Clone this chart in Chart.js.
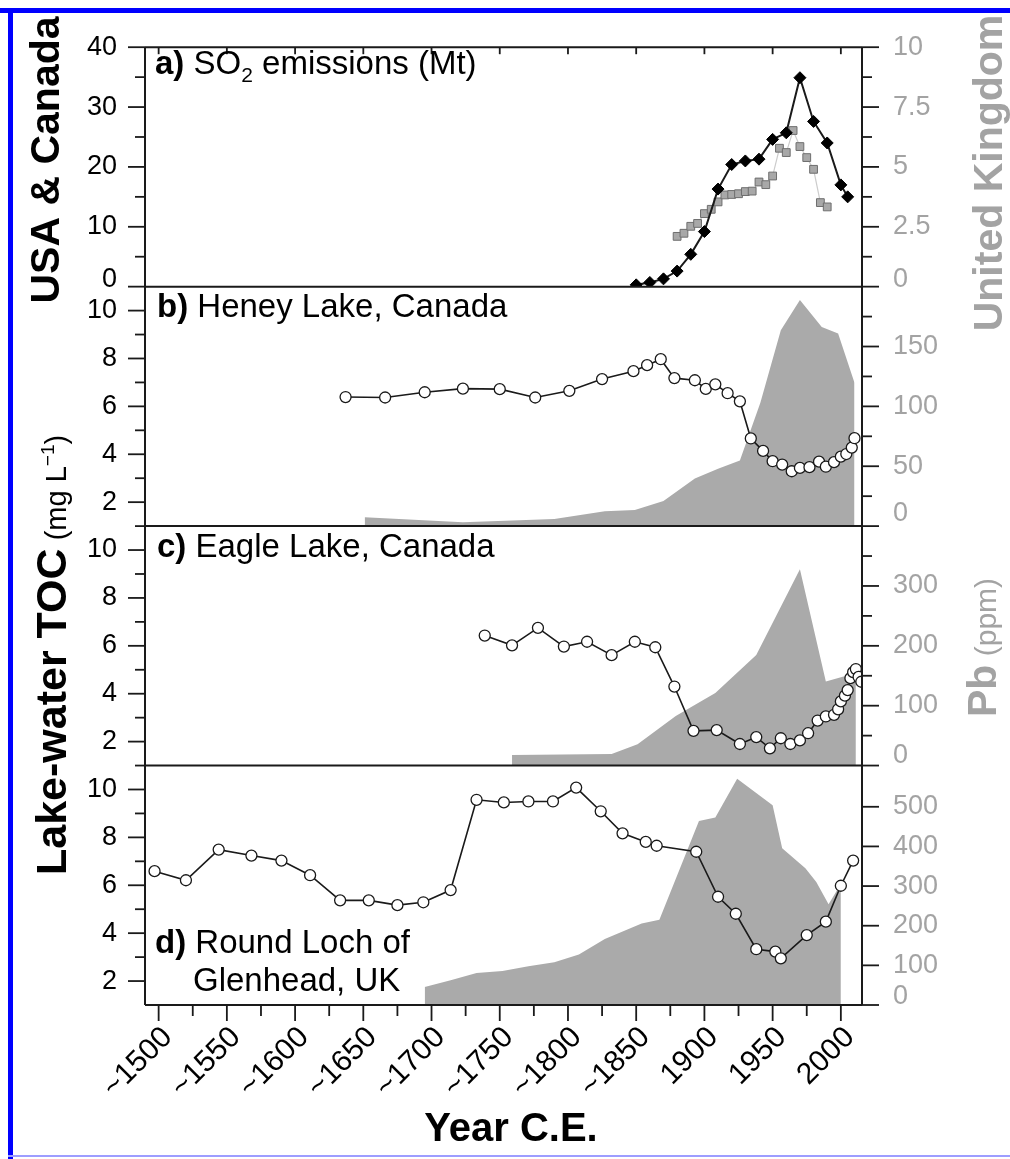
<!DOCTYPE html>
<html>
<head>
<meta charset="utf-8">
<script src="https://cdn.jsdelivr.net/npm/chart.js@4.4.1/dist/chart.umd.min.js"></script>
<style>
  html, body { margin: 0; padding: 0; background: #fff; }
  canvas { display: block; }
</style>
</head>
<body>
<canvas id="fig" width="1010" height="1159"></canvas>
<script>
// a) SO2 emissions (Mt)
const so2Years = [1850, 1860, 1870, 1880, 1890, 1900, 1910, 1920, 1930, 1940, 1950, 1960, 1970, 1980, 1990, 2000, 2005];
const so2UsaCanada = [0.3, 0.7, 1.3, 2.6, 5.4, 9.2, 16.3, 20.4, 21.0, 21.3, 24.6, 25.7, 34.9, 27.6, 24.0, 17.0, 15.0];
const ukYears = [1880, 1885, 1890, 1895, 1900, 1905, 1910, 1915, 1920, 1925, 1930, 1935, 1940, 1945, 1950, 1955, 1960, 1965, 1970, 1975, 1980, 1985, 1990];
const so2Uk = [2.10, 2.23, 2.52, 2.64, 3.05, 3.23, 3.54, 3.83, 3.85, 3.88, 3.97, 3.99, 4.37, 4.26, 4.62, 5.78, 5.60, 6.52, 5.85, 5.39, 4.90, 3.51, 3.33];

// b) Heney Lake
const heneyYears = [1637, 1666, 1695, 1723, 1750, 1776, 1801, 1825, 1848, 1858, 1868, 1878, 1893, 1901, 1908, 1917, 1926, 1934, 1943, 1950, 1957, 1964, 1970, 1977, 1984, 1989, 1995, 2000, 2004, 2008, 2010];
const heneyToc = [6.39, 6.37, 6.59, 6.74, 6.72, 6.37, 6.65, 7.14, 7.47, 7.72, 7.97, 7.18, 7.09, 6.73, 6.92, 6.55, 6.21, 4.66, 4.14, 3.71, 3.57, 3.29, 3.43, 3.46, 3.69, 3.48, 3.67, 3.90, 4.01, 4.28, 4.67];
const heneyPbYears = [1651, 1723, 1790, 1827, 1849, 1870, 1893, 1910, 1926, 1941, 1956, 1970, 1986, 1998, 2010];
const heneyPb = [7.4, 3.3, 6.0, 12.3, 13.4, 21, 39.7, 48, 54.8, 103, 163.6, 188.8, 166.4, 160.9, 119.7];

// c) Eagle Lake
const eagleYears = [1739, 1759, 1778, 1797, 1814, 1832, 1849, 1864, 1878, 1892, 1909, 1926, 1938, 1948, 1956, 1963, 1970, 1976, 1983, 1989, 1995, 1998, 2000, 2003, 2005, 2007, 2009, 2011, 2013, 2015];
const eagleToc = [6.43, 6.02, 6.75, 5.97, 6.17, 5.61, 6.17, 5.94, 4.30, 2.45, 2.48, 1.90, 2.19, 1.72, 2.14, 1.90, 2.05, 2.35, 2.88, 3.05, 3.12, 3.35, 3.68, 3.92, 4.15, 4.65, 4.90, 5.03, 4.70, 4.50];
const eaglePbYears = [1759, 1832, 1851, 1879, 1908, 1938, 1970, 1989, 2002, 2011];
const eaglePb = [17.5, 19.2, 35.7, 82.6, 121, 184.5, 327.8, 140.5, 148.8, 151.4];

// d) Round Loch of Glenhead
const glenYears = [1497, 1520, 1544, 1568, 1590, 1611, 1633, 1654, 1675, 1694, 1714, 1733, 1753, 1771, 1789, 1806, 1824, 1840, 1857, 1865, 1894, 1910, 1923, 1938, 1952, 1956, 1975, 1989, 2000, 2009];
const glenToc = [6.59, 6.21, 7.49, 7.24, 7.03, 6.42, 5.37, 5.37, 5.17, 5.29, 5.80, 9.57, 9.46, 9.50, 9.50, 10.08, 9.09, 8.17, 7.81, 7.65, 7.40, 5.52, 4.81, 3.33, 3.23, 2.95, 3.92, 4.48, 5.98, 7.03];
const glenPbYears = [1695, 1714, 1733, 1752, 1771, 1790, 1808, 1827, 1854, 1867, 1896, 1908, 1924, 1950, 1957, 1974, 1982, 1991, 2000];
const glenPb = [45.7, 62.5, 80.7, 85.7, 97.5, 108, 127.5, 166.7, 205.7, 215, 464, 473, 570.7, 504, 395.7, 345, 310, 254, 305];

// ticks
const yearTicks = [1500, 1550, 1600, 1650, 1700, 1750, 1800, 1850, 1900, 1950, 2000];
const yearTickLabels = ['~1500', '~1550', '~1600', '~1650', '~1700', '~1750', '~1800', '~1850', '1900', '1950', '2000'];
const yearMinor = [1525, 1575, 1625, 1675, 1725, 1775, 1825, 1875, 1925, 1975];
const so2Ticks = [0, 10, 20, 30, 40];
const so2Minor = [5, 15, 25, 35];
const ukTicks = [0, 2.5, 5, 7.5, 10];
const ukMinor = [1.25, 3.75, 6.25, 8.75];
const tocTicks = [2, 4, 6, 8, 10];
const tocMinorBC = [1, 3, 5, 7, 9];
const tocMinorD = [3, 5, 7, 9];
const pbHeneyTicks = [0, 50, 100, 150];
const pbHeneyMinor = [25, 75, 125, 175];
const pbEagleTicks = [0, 100, 200, 300];
const pbEagleMinor = [50, 150, 250, 350];
const pbGlenTicks = [0, 100, 200, 300, 400, 500];

const FONT = '"Liberation Sans", Arial, Helvetica, sans-serif';
const INK = '#1a1a1a';
const GREY = '#a3a3a3';
const AREA = '#aaaaaa';
const TICK_FONT = 27;

Chart.defaults.font.family = FONT;

const pts = (xs, ys) => xs.map((x, i) => ({x: x, y: ys[i]}));

function tocLine(xs, ys, axis) {
    return {
        data: pts(xs, ys), xAxisID: 'x', yAxisID: axis,
        borderColor: INK, borderWidth: 1.6, fill: false,
        pointRadius: 5.5, pointBackgroundColor: '#fff', pointBorderColor: INK, pointBorderWidth: 1.3,
        order: 1
    };
}
function pbArea(xs, ys, axis) {
    return {
        data: pts(xs, ys), xAxisID: 'x', yAxisID: axis,
        fill: 'origin', backgroundColor: AREA, borderWidth: 0, pointRadius: 0,
        order: 3
    };
}

// zero labels are lifted a little, drawn by the plugin
const zeroShift = {yA: 7, rA: 7, rB: 13, rC: 10, rD: 8};

function yAxis(id, pos, weight, min, max, ticks) {
    const left = pos === 'left';
    return {
        type: 'linear', position: pos, stack: left ? 'L' : 'R', stackWeight: 1, weight: weight,
        min: min, max: max, bounds: 'data',
        afterBuildTicks: s => { s.ticks = ticks.map(v => ({value: v})); },
        afterFit: s => { s.width = left ? 145 : 148; },
        grid: {display: false, drawTicks: false},
        border: {display: false},
        ticks: {
            autoSkip: false,
            padding: left ? 28 : 31,
            color: left ? '#000' : GREY,
            font: {size: TICK_FONT},
            callback: v => (v === 0 && zeroShift[id] !== undefined) ? '' : String(v)
        }
    };
}

function line(ctx, x1, y1, x2, y2) {
    ctx.beginPath(); ctx.moveTo(x1, y1); ctx.lineTo(x2, y2); ctx.stroke();
}

function drawRuns(ctx, x, y, rot, runs, align, color) {
    ctx.save();
    ctx.translate(x, y);
    ctx.rotate(rot);
    ctx.fillStyle = color;
    ctx.textBaseline = 'alphabetic';
    ctx.textAlign = 'left';
    let w = 0;
    runs.forEach(r => { ctx.font = r.font; w += ctx.measureText(r.text).width; });
    let cx = align === 'center' ? -w / 2 : 0;
    runs.forEach(r => {
        ctx.font = r.font;
        ctx.fillText(r.text, cx, r.dy || 0);
        cx += ctx.measureText(r.text).width;
    });
    ctx.restore();
}

const figurePlugin = {
    id: 'figure',
    beforeDraw(chart) {
        const ctx = chart.ctx;
        ctx.save();
        ctx.fillStyle = '#fff';
        ctx.fillRect(0, 0, chart.width, chart.height);
        ctx.fillStyle = '#0000ff';
        ctx.fillRect(0, 8, chart.width, 5);
        ctx.fillRect(8, 8, 5, chart.height - 8);
        ctx.fillStyle = '#9d9dff';
        ctx.fillRect(8, 1155, chart.width - 8, 2);
        ctx.restore();
    },
    afterDatasetsDraw(chart) {
        const ctx = chart.ctx, a = chart.chartArea, s = chart.scales;
        ctx.save();
        ctx.strokeStyle = INK;
        ctx.lineWidth = 2;
        line(ctx, a.left, a.top, a.left, a.bottom);
        line(ctx, a.right, a.top, a.right, a.bottom);
        [a.top, s.yA.bottom, s.yB.bottom, s.yC.bottom, a.bottom].forEach(y => line(ctx, a.left, y, a.right, y));

        ctx.lineWidth = 1.8;
        const sets = [
            ['yA', so2Ticks, so2Minor], ['yB', tocTicks, tocMinorBC], ['yC', tocTicks, tocMinorBC], ['yD', tocTicks, tocMinorD],
            ['rA', ukTicks, ukMinor], ['rB', pbHeneyTicks, pbHeneyMinor], ['rC', pbEagleTicks, pbEagleMinor], ['rD', pbGlenTicks, []]
        ];
        sets.forEach(([id, major, minor]) => {
            const sc = s[id];
            const left = sc.position === 'left';
            const x0 = left ? a.left : a.right;
            const dir = left ? -1 : 1;
            major.forEach(v => { const py = sc.getPixelForValue(v); line(ctx, x0, py, x0 + dir * 17, py); });
            minor.forEach(v => { const py = sc.getPixelForValue(v); line(ctx, x0, py, x0 + dir * 10, py); });
        });
        yearTicks.forEach(v => {
            const px = s.x.getPixelForValue(v);
            line(ctx, px, a.bottom, px, a.bottom + 16);
            line(ctx, px, a.top, px, a.top + 7);
        });
        yearMinor.forEach(v => {
            const px = s.x.getPixelForValue(v);
            line(ctx, px, a.bottom, px, a.bottom + 11);
        });
        ctx.restore();
    },
    afterDraw(chart) {
        const ctx = chart.ctx, a = chart.chartArea, s = chart.scales;
        ctx.save();
        Object.keys(zeroShift).forEach(id => {
            const sc = s[id];
            const left = sc.position === 'left';
            ctx.font = TICK_FONT + 'px ' + FONT;
            ctx.fillStyle = left ? '#000' : GREY;
            ctx.textAlign = left ? 'right' : 'left';
            ctx.textBaseline = 'middle';
            ctx.fillText('0', left ? a.left - 28 : a.right + 31, sc.getPixelForValue(0) - zeroShift[id]);
        });
        ctx.restore();

        const R = n => n + 'px ' + FONT;
        const B = n => 'bold ' + n + 'px ' + FONT;
        const up = -Math.PI / 2;

        // panel labels
        drawRuns(ctx, 155, 74, 0, [{text: 'a)', font: B(33)}, {text: ' SO', font: R(33)}, {text: '2', font: R(21), dy: 8}, {text: ' emissions (Mt)', font: R(33)}], 'left', '#000');
        drawRuns(ctx, 157, 317, 0, [{text: 'b)', font: B(33)}, {text: ' Heney Lake, Canada', font: R(33)}], 'left', '#000');
        drawRuns(ctx, 157, 557, 0, [{text: 'c)', font: B(33)}, {text: ' Eagle Lake, Canada', font: R(33)}], 'left', '#000');
        drawRuns(ctx, 155, 953, 0, [{text: 'd)', font: B(33)}, {text: ' Round Loch of', font: R(33)}], 'left', '#000');
        drawRuns(ctx, 193, 991, 0, [{text: 'Glenhead, UK', font: R(33)}], 'left', '#000');

        // axis titles
        drawRuns(ctx, 59, 160, up, [{text: 'USA & Canada', font: B(41)}], 'center', '#000');
        drawRuns(ctx, 66, 875, up, [{text: 'Lake-water TOC', font: B(43)}, {text: ' (mg L', font: R(29)}, {text: '\u22121', font: R(19), dy: -12}, {text: ')', font: R(29)}], 'left', '#000');
        drawRuns(ctx, 1002, 173, up, [{text: 'United Kingdom', font: B(41)}], 'center', GREY);
        drawRuns(ctx, 996, 717, up, [{text: 'Pb', font: B(41)}, {text: ' (ppm)', font: R(30)}], 'left', GREY);
        drawRuns(ctx, 511, 1141, 0, [{text: 'Year C.E.', font: B(40)}], 'center', '#000');
    }
};

new Chart(document.getElementById('fig'), {
    type: 'line',
    data: {
        datasets: [
            {
                data: pts(so2Years, so2UsaCanada), xAxisID: 'x', yAxisID: 'yA',
                borderColor: INK, borderWidth: 2, fill: false,
                pointStyle: 'rectRot', pointRadius: 6, pointBackgroundColor: '#000', pointBorderColor: '#000', pointBorderWidth: 1,
                order: 0
            },
            {
                data: pts(ukYears, so2Uk), xAxisID: 'x', yAxisID: 'rA',
                borderColor: '#cccccc', borderWidth: 1.2, fill: false,
                pointStyle: 'rect', pointRadius: 5.5, pointBackgroundColor: '#a8a8a8', pointBorderColor: '#6e6e6e', pointBorderWidth: 1,
                order: 2
            },
            pbArea(heneyPbYears, heneyPb, 'rB'),
            tocLine(heneyYears, heneyToc, 'yB'),
            pbArea(eaglePbYears, eaglePb, 'rC'),
            tocLine(eagleYears, eagleToc, 'yC'),
            pbArea(glenPbYears, glenPb, 'rD'),
            tocLine(glenYears, glenToc, 'yD')
        ]
    },
    options: {
        responsive: false,
        animation: false,
        devicePixelRatio: 1,
        layout: {padding: {top: 38, left: 0, right: 0, bottom: 0}},
        plugins: {legend: {display: false}, tooltip: {enabled: false}},
        elements: {line: {tension: 0}},
        scales: {
            x: {
                type: 'linear', position: 'bottom', min: 1490, max: 2015.5, bounds: 'data',
                afterBuildTicks: s => { s.ticks = yearTicks.map(v => ({value: v})); },
                afterFit: s => { s.height = 154; },
                grid: {display: false, drawTicks: false},
                border: {display: false},
                ticks: {
                    autoSkip: false, minRotation: 45, maxRotation: 45,
                    padding: 15, labelOffset: 9,
                    color: '#000', font: {size: 30},
                    callback: v => yearTickLabels[yearTicks.indexOf(v)]
                }
            },
            yA: yAxis('yA', 'left', 4, 0, 40, so2Ticks),
            yB: yAxis('yB', 'left', 3, 1, 11, tocTicks),
            yC: yAxis('yC', 'left', 2, 1, 11, tocTicks),
            yD: yAxis('yD', 'left', 1, 1, 11, tocTicks),
            rA: yAxis('rA', 'right', 1, 0, 10, ukTicks),
            rB: yAxis('rB', 'right', 2, 0, 200, pbHeneyTicks),
            rC: yAxis('rC', 'right', 3, 0, 400, pbEagleTicks),
            rD: yAxis('rD', 'right', 4, 0, 604, pbGlenTicks)
        }
    },
    plugins: [figurePlugin]
});
</script>
</body>
</html>
